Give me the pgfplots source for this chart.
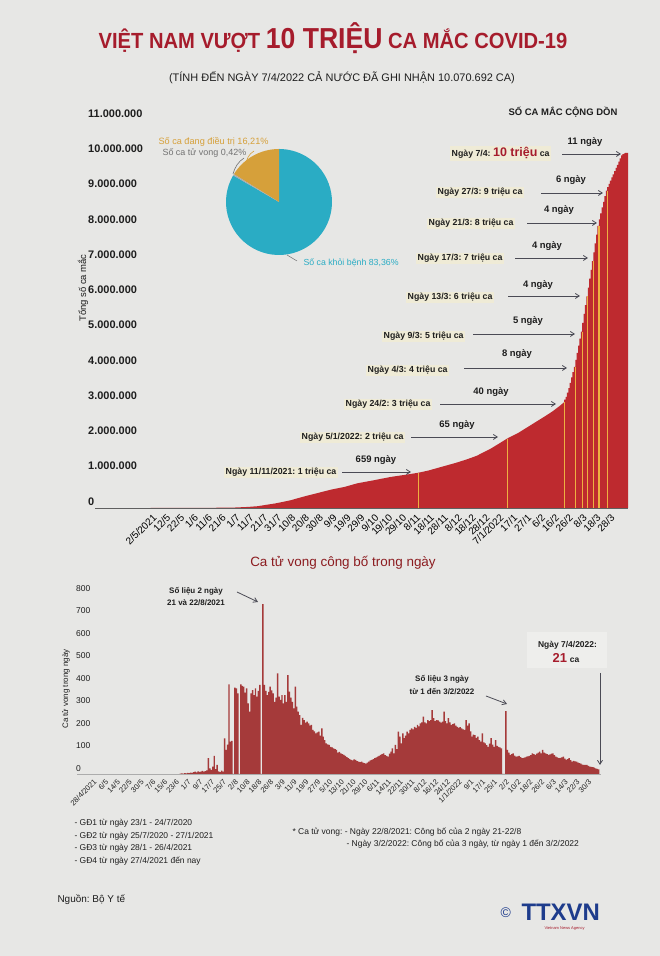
\documentclass[border=0pt]{standalone}
\usepackage{pgfplots}
\pgfplotsset{compat=1.18}
\usepackage{graphicx}
\usepackage{fontspec}
\setmainfont{Liberation Sans}
\usetikzlibrary{arrows.meta}
\frenchspacing
\definecolor{bg}{RGB}{231,231,229}
\definecolor{areared}{RGB}{190,42,47}
\definecolor{ylw}{RGB}{238,176,64}
\definecolor{titlered}{RGB}{166,28,44}
\definecolor{lowtitle}{RGB}{140,28,32}
\definecolor{barred}{RGB}{165,58,58}
\definecolor{pieteal}{RGB}{42,172,196}
\definecolor{pieor}{RGB}{214,160,58}
\definecolor{piegrey}{RGB}{115,115,115}
\definecolor{txt}{RGB}{30,30,30}
\definecolor{arr}{RGB}{75,75,85}
\definecolor{hl}{RGB}{239,235,214}
\definecolor{logoblue}{RGB}{30,60,140}
\newcommand{\fs}[1]{\fontsize{#1}{#1}\selectfont}
\begin{document}
\begin{tikzpicture}
\fill[bg] (0bp,0bp) rectangle (660bp,956bp);

% ---------------- upper chart: cumulative cases (millions) ----------------
\begin{axis}[at={(95bp,448bp)}, anchor=south west, scale only axis,
  width=533bp, height=388bp,
  xmin=-40, xmax=344, ymin=0, ymax=11, clip=false,
  axis line style={draw=none}, major tick length=0pt,
  ytick={0,1,...,11},
  yticklabels={0,1.000.000,2.000.000,3.000.000,4.000.000,5.000.000,6.000.000,7.000.000,8.000.000,9.000.000,10.000.000,11.000.000},
  yticklabel style={anchor=south west, inner sep=0pt, xshift=-7bp, yshift=2.5bp, font=\bfseries\fs{11}, text=txt},
  xtick={0,10,...,330},
  xticklabels={2/5/2021,12/5,22/5,1/6,11/6,21/6,1/7,11/7,21/7,31/7,10/8,20/8,30/8,9/9,19/9,29/9,9/10,19/10,29/10,8/11,18/11,28/11,8/12,18/12,28/12,7/1/2022,17/1,27/1,6/2,16/2,26/2,8/3,18/3,28/3},
  xticklabel style={xshift=5bp, yshift=-7bp, rotate=45, anchor=east, inner sep=1pt, font=\fs{10}, text=black},
]
\draw[gray!75!black, line width=0.9bp] (axis cs:-40,0) -- (axis cs:344,0);
\addplot[fill=areared, draw=none] coordinates {
(0,0)(40,0.004)(60,0.012)(70,0.03)(77,0.05)(85,0.10)(90,0.13)(95,0.17)(101,0.22)(110,0.32)(120,0.42)(130,0.52)(140,0.60)(149,0.70)(160,0.78)(173,0.88)(185,0.95)(193,1.00)(200,1.06)(210,1.17)(220,1.28)(228,1.38)(235,1.48)(245,1.68)(250,1.80)(257,1.97)(265,2.13)(276,2.40)(285,2.62)(290,2.75)(295,2.90)(298,3.00)
} \closedcycle;
\addplot[fill=areared, draw=none, const plot mark right] coordinates {
(298,3.00)(299,3.07)(300,3.15)(301,3.27)(302,3.40)(303,3.55)(304,3.70)(305,3.85)(306,4.00)(307,4.20)(308,4.40)(309,4.60)(310,4.80)(311,5.00)(312,5.25)(313,5.50)(314,5.75)(315,6.00)(316,6.25)(317,6.50)(318,6.75)(319,7.00)(320,7.25)(321,7.50)(322,7.75)(323,8.00)(324,8.18)(325,8.35)(326,8.52)(327,8.68)(328,8.84)(329,9.00)(330,9.10)(331,9.19)(332,9.28)(333,9.37)(334,9.46)(335,9.55)(336,9.64)(337,9.73)(338,9.82)(339,9.91)(340,10.00)(341,10.03)(342,10.05)(343,10.07)(344,10.07)
} \closedcycle;
\addplot[ycomb, draw=ylw, line width=1.3bp, no markers] coordinates {
(193,1.0)(257,1.97)(298,3.0)(306,4.0)(311,5.0)(315,6.0)(319,7.0)(323,8.0)(329,9.0)
};
\end{axis}

% ---------------- lower chart: daily deaths ----------------
\begin{axis}[at={(77bp,182bp)}, anchor=south west, scale only axis,
  width=524bp, height=180bp,
  xmin=-10.2, xmax=345.6, ymin=0, ymax=800, clip=false,
  axis line style={draw=none}, major tick length=0pt,
  /pgf/number format/assume math mode=true,
  ytick={0,100,...,800},
  yticklabel style={anchor=south west, inner sep=0pt, xshift=-1bp, yshift=2.5bp, font=\fs{8.5}, text=txt},
  xtick={0,8,...,336},
  xticklabels={28/4/2021,6/5,14/5,22/5,30/5,7/6,15/6,23/6,1/7,9/7,17/7,25/7,2/8,10/8,18/8,26/8,3/9,11/9,19/9,27/9,5/10,13/10,21/10,29/10,6/11,14/11,22/11,30/11,8/12,16/12,24/12,1/1/2022,9/1,17/1,25/1,2/2,10/2,18/2,26/2,6/3,14/3,22/3,30/3},
  xticklabel style={xshift=4bp, yshift=-6bp, rotate=45, anchor=east, inner sep=1pt, font=\fs{7.5}, text=txt},
]
\draw[gray!65, line width=0.7bp] (axis cs:-10.2,0) -- (axis cs:345.6,0);
\addplot[ybar, bar width=1, fill=barred, draw=none] coordinates {
(60,2)(61,3)(62,2)(63,4)(64,3)(65,5)(66,4)(67,6)(68,5)(69,8)(70,10)(71,7)(72,12)(73,9)(74,11)(75,14)(76,10)(77,13)(78,16)(79,70)(80,25)(81,18)(82,33)(83,81)(84,22)(85,40)(86,12)(87,8)(88,15)(89,10)(90,158)(91,107)(92,130)(93,398)(94,144)(95,147)(96,0)(97,384)(98,381)(99,358)(100,0)(101,398)(102,392)(103,388)(104,362)(105,381)(106,314)(107,277)(108,358)(109,373)(110,351)(111,381)(112,344)(113,370)(114,396)(115,0)(116,755)(117,396)(118,370)(119,351)(120,365)(121,388)(122,372)(123,358)(124,321)(125,340)(126,447)(127,344)(128,330)(129,351)(130,314)(131,351)(132,321)(133,440)(134,366)(135,340)(136,321)(137,292)(138,388)(139,300)(140,277)(141,262)(142,218)(143,250)(144,240)(145,228)(146,233)(147,225)(148,215)(149,218)(150,196)(151,190)(152,181)(153,185)(154,188)(155,170)(156,203)(157,166)(158,150)(159,136)(160,132)(161,129)(162,121)(163,118)(164,114)(165,110)(166,107)(167,95)(168,98)(169,92)(170,88)(171,85)(172,80)(173,75)(174,70)(175,66)(176,63)(177,60)(178,65)(179,63)(180,57)(181,55)(182,53)(183,55)(184,50)(185,48)(186,46)(187,51)(188,55)(189,60)(190,63)(191,66)(192,70)(193,74)(194,77)(195,80)(196,85)(197,88)(198,92)(199,84)(200,80)(201,77)(202,90)(203,99)(204,114)(205,92)(206,129)(207,110)(208,188)(209,166)(210,136)(211,181)(212,159)(213,170)(214,188)(215,180)(216,196)(217,203)(218,198)(219,210)(220,205)(221,218)(222,212)(223,225)(224,230)(225,255)(226,230)(227,225)(228,240)(229,235)(230,240)(231,284)(232,248)(233,235)(234,240)(235,238)(236,233)(237,228)(238,233)(239,277)(240,235)(241,225)(242,248)(243,230)(244,218)(245,222)(246,225)(247,215)(248,210)(249,205)(250,208)(251,203)(252,198)(253,196)(254,240)(255,215)(256,225)(257,190)(258,166)(259,175)(260,173)(261,160)(262,166)(263,150)(264,144)(265,181)(266,140)(267,136)(268,128)(269,121)(270,135)(271,159)(272,130)(273,121)(274,151)(275,125)(276,121)(277,118)(278,114)(279,0)(280,0)(281,280)(282,107)(283,95)(284,85)(285,88)(286,92)(287,82)(288,77)(289,78)(290,80)(291,75)(292,70)(293,72)(294,74)(295,77)(296,78)(297,80)(298,84)(299,92)(300,88)(301,85)(302,90)(303,95)(304,99)(305,92)(306,107)(307,95)(308,92)(309,88)(310,85)(311,87)(312,90)(313,92)(314,84)(315,77)(316,74)(317,70)(318,72)(319,74)(320,77)(321,68)(322,63)(323,66)(324,70)(325,62)(326,55)(327,58)(328,56)(329,55)(330,50)(331,48)(332,46)(333,42)(334,40)(335,41)(336,40)(337,36)(338,33)(339,32)(340,30)(341,28)(342,25)(343,23)(344,21)
};
\end{axis}

% ---------------- pie (recovered / treating / deaths) ----------------
\fill[pieteal] (279bp,754bp) -- ++(149.87:53bp) arc[start angle=149.87, end angle=450, radius=53bp] -- cycle;
\fill[pieor] (279bp,754bp) -- ++(90:53bp) arc[start angle=90, end angle=148.36, radius=53bp] -- cycle;
\fill[piegrey!60] (279bp,754bp) -- ++(148.36:53bp) arc[start angle=148.36, end angle=149.87, radius=53bp] -- cycle;

% ---------------- annotations (y measured from top) ----------------
\begin{scope}[yshift=956bp, x=1bp, y=-1bp]
\tikzset{
  ann/.style={anchor=base west, font=\bfseries\fs{8.8}, text=txt, fill=hl, inner sep=1.5pt},
  days/.style={font=\bfseries\fs{9.5}, text=txt},
  arrowst/.style={draw=arr, line width=0.8bp, -{Straight Barb[length=4bp,width=5bp]}}
}
\node[anchor=base] at (333,49) {\color{titlered}\bfseries\scalebox{0.92}[1]{\fs{22}VIỆT NAM VƯỢT {\fs{29}10 TRIỆU} CA MẮC COVID-19}};
\node[anchor=base, font=\fs{11}, text=txt] at (342,82) {(TÍNH ĐẾN NGÀY 7/4/2022 CẢ NƯỚC ĐÃ GHI NHẬN 10.070.692 CA)};
\node[anchor=base west, font=\bfseries\fs{9.5}, text=txt] at (505,116) {SỐ CA MẮC CỘNG DỒN};

\node[rotate=90, font=\fs{9.5}, text=txt] at (83,288) {Tổng số ca mắc};

% pie labels
\node[anchor=base west, font=\fs{9.2}, text=pieor] at (155,145) {Số ca đang điều trị 16,21\%};
\node[anchor=base west, font=\fs{9}, text=piegrey] at (159,156) {Số ca tử vong 0,42\%};
\node[anchor=base west, font=\fs{8.8}, text=pieteal] at (300,266) {Số ca khỏi bệnh 83,36\%};
\draw[pieor, line width=0.6bp] (254,151) .. controls (249,154) and (246,159) .. (246,166);
\draw[piegrey, line width=0.6bp] (244,158) .. controls (238,162) and (235,167) .. (233,174);
\draw[piegrey, line width=0.5bp] (287,255) -- (297,261);

% milestones
\node[ann] at (450,157) {Ngày 7/4: {\color{titlered}\fs{12.5}10 triệu} ca};
\draw[arrowst] (562,154) -- (621,154);
\node[days] at (585,142) {11 ngày};
\node[ann] at (436,195) {Ngày 27/3: 9 triệu ca};
\draw[arrowst] (541,193) -- (603,193);
\node[days] at (571,180) {6 ngày};
\node[ann] at (427,226) {Ngày 21/3: 8 triệu ca};
\draw[arrowst] (527,223) -- (597,223);
\node[days] at (559,210) {4 ngày};
\node[ann] at (416,261) {Ngày 17/3: 7 triệu ca};
\draw[arrowst] (515,258) -- (588,258);
\node[days] at (547,246) {4 ngày};
\node[ann] at (406,300) {Ngày 13/3: 6 triệu ca};
\draw[arrowst] (508,296) -- (580,296);
\node[days] at (538,285) {4 ngày};
\node[ann] at (382,339) {Ngày 9/3: 5 triệu ca};
\draw[arrowst] (473,334) -- (575,334);
\node[days] at (528,321) {5 ngày};
\node[ann] at (366,373) {Ngày 4/3: 4 triệu ca};
\draw[arrowst] (464,368) -- (567,368);
\node[days] at (517,354) {8 ngày};
\node[ann] at (344,407) {Ngày 24/2: 3 triệu ca};
\draw[arrowst] (440,404) -- (556,404);
\node[days] at (491,392) {40 ngày};
\node[ann] at (300,440) {Ngày 5/1/2022: 2 triệu ca};
\draw[arrowst] (411,437) -- (498,437);
\node[days] at (457,425) {65 ngày};
\node[ann] at (224,475) {Ngày 11/11/2021: 1 triệu ca};
\draw[arrowst] (342,472) -- (411,472);
\node[days] at (376,460) {659 ngày};

% lower chart texts
\node[font=\fs{13.5}, text=lowtitle] at (343,563) {Ca tử vong công bố trong ngày};
\node[rotate=90, font=\fs{8}, text=txt] at (66,689) {Ca tử vong trong ngày};
\node[font=\bfseries\fontsize{8}{12}\selectfont, text=txt, align=center] at (196,597) {Số liệu 2 ngày\\21 và 22/8/2021};
\draw[arrowst] (237,592) -- (258,602);
\node[font=\bfseries\fontsize{8}{13}\selectfont, text=txt, align=center] at (442,685.5) {Số liệu 3 ngày\\từ 1 đến 3/2/2022};
\draw[arrowst] (486,696) -- (507,704);
\fill[white, opacity=0.3] (527,632) rectangle (607,668);
\node[font=\bfseries\fs{8.5}, text=txt] at (567.5,645) {Ngày 7/4/2022:};
\node[anchor=base, text=txt] at (566,663) {{\color{titlered}\bfseries\fs{13}21} {\bfseries\fs{8.5}ca}};
\draw[arrowst] (600,673) -- (600,765);

% footer
\node[anchor=west, font=\fs{8.5}, text=txt] at (71,823) {- GĐ1 từ ngày 23/1 - 24/7/2020};
\node[anchor=west, font=\fs{8.5}, text=txt] at (71,836) {- GĐ2 từ ngày 25/7/2020 - 27/1/2021};
\node[anchor=west, font=\fs{8.5}, text=txt] at (71,848) {- GĐ3 từ ngày 28/1 - 26/4/2021};
\node[anchor=west, font=\fs{8.5}, text=txt] at (71,861) {- GĐ4 từ ngày 27/4/2021 đến nay};
\node[anchor=west, font=\fs{8.5}, text=txt] at (289,832) {* Ca tử vong: - Ngày 22/8/2021: Công bố của 2 ngày 21-22/8};
\node[anchor=west, font=\fs{8.5}, text=txt] at (343,844) {- Ngày 3/2/2022: Công bố của 3 ngày, từ ngày 1 đến 3/2/2022};
\node[anchor=west, font=\fs{10}, text=txt] at (54,900) {Nguồn: Bộ Y tế};
\node[anchor=west, font=\fs{14}, text=logoblue] at (497,913) {©};
\node[anchor=west, font=\bfseries\fs{24}, text=logoblue] at (518,912) {TTXVN};
\node[anchor=west, font=\fs{4}, text=titlered] at (541,928) {Vietnam News Agency};
\end{scope}
\end{tikzpicture}
\end{document}
